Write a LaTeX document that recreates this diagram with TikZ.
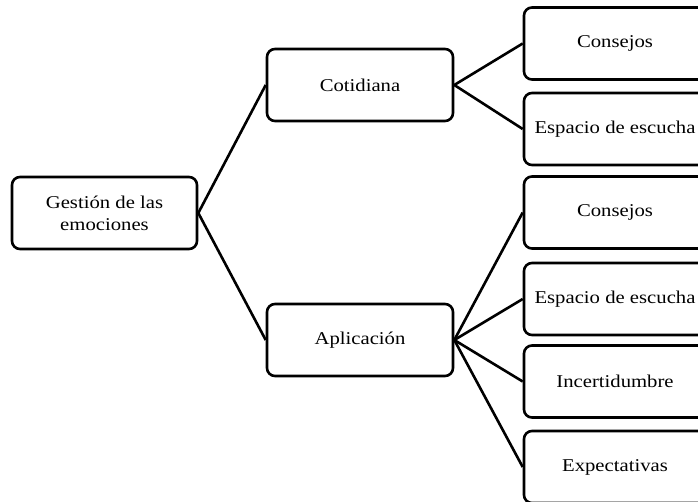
\documentclass[tikz,border=0pt]{standalone}
\usepackage{fontspec}
\setmainfont{Liberation Serif}[FakeStretch=1.15]
\usetikzlibrary{positioning}
\tikzstyle{block}=[rectangle, draw=black, line width=2.6pt,
    align=center, rounded corners=8pt, inner sep=0pt,
    minimum height=72pt, font=\fontsize{18}{22}\selectfont]
\tikzstyle{line}=[draw, line width=2.6pt]

\begin{document}
\begin{tikzpicture}
      [x=1pt, y=-1pt,
      root/.style={block, minimum width=185pt},
      mid/.style={block, minimum width=186pt},
      leaf/.style={block, minimum width=182pt}]

      \useasboundingbox (0,0) rectangle (698,502);

      \node [root] (gestion) at (104.5,213) {Gestión de las\\emociones};

      \node [mid] (cotid) at (360,85) {Cotidiana};
      \node [mid] (aplic) at (360,340) {Aplicación};

      \node [leaf] (cons1) at (615,43.5)  {Consejos};
      \node [leaf] (esp1)  at (615,129)   {Espacio de escucha};
      \node [leaf] (cons2) at (615,212.5) {Consejos};
      \node [leaf] (esp2)  at (615,299)   {Espacio de escucha};
      \node [leaf] (incer) at (615,381.5) {Incertidumbre};
      \node [leaf] (expec) at (615,467)   {Expectativas};

      \begin{scope}[every path/.style=line]
        \path (gestion.east) -- (cotid.west);
        \path (gestion.east) -- (aplic.west);
        \path (cotid.east) -- (cons1.west);
        \path (cotid.east) -- (esp1.west);
        \path (aplic.east) -- (cons2.west);
        \path (aplic.east) -- (esp2.west);
        \path (aplic.east) -- (incer.west);
        \path (aplic.east) -- (expec.west);
      \end{scope}

\end{tikzpicture}
\end{document}
